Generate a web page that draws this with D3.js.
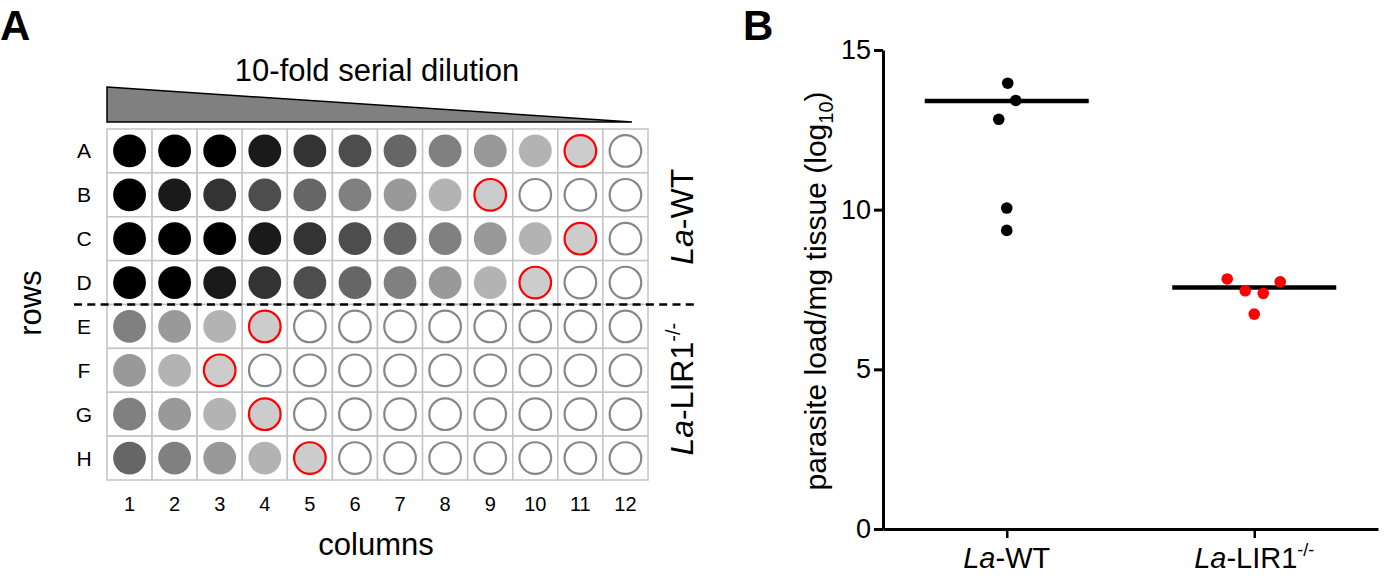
<!DOCTYPE html>
<html>
<head>
  <title>Serial dilution plate and parasite load</title>
  <script src="https://d3js.org/d3.v7.min.js"></script>
  <style>
    body { margin: 0; background: #fff; }
    text { font-family: "Liberation Sans", Arial, sans-serif; fill: #000; }
  </style>
</head>
<body>
  <div id="chart"></div>

  <script>
    // plate layout
    const rows = ["A", "B", "C", "D", "E", "F", "G", "H"];
    const columns = [1, 2, 3, 4, 5, 6, 7, 8, 9, 10, 11, 12];
    // shade level of each well (0 = darkest, 8 = faintest), null = no growth
    const wellLevels = [
      [0, 0, 0, 1, 2, 3, 4, 5, 6, 7, 8, null],
      [0, 1, 2, 3, 4, 5, 6, 7, 8, null, null, null],
      [0, 0, 0, 1, 2, 3, 4, 5, 6, 7, 8, null],
      [0, 0, 1, 2, 3, 4, 5, 6, 7, 8, null, null],
      [5, 6, 7, 8, null, null, null, null, null, null, null, null],
      [6, 7, 8, null, null, null, null, null, null, null, null, null],
      [5, 6, 7, 8, null, null, null, null, null, null, null, null],
      [4, 5, 6, 7, 8, null, null, null, null, null, null, null]
    ];
    const strainRows = [["A", "B", "C", "D"], ["E", "F", "G", "H"]];

    // parasite load (log10 per mg tissue)
    const strains = ["La-WT", "La-LIR1-/-"];
    const wtLoad = [13.96, 13.42, 12.83, 10.05, 9.35];
    const lirLoad = [7.83, 7.46, 7.38, 7.74, 6.73];
    const groupLine = [13.40, 7.56];
    const yTicks = [0, 5, 10, 15];

    // horizontal spread of the dots (px)
    const spread = [[1, 9, -8, 0, 0], [-27, -9, 9, 26, 0]];

    const svg = d3.select("#chart")
      .append("svg")
      .attr("width", 1400)
      .attr("height", 576);

    // ---------- panel A ----------
    const colScale = d3.scaleBand().domain(columns).range([107, 648]);
    const rowScale = d3.scaleBand().domain(rows).range([129, 480]);
    const shade = d3.scaleLinear().domain([0, 8]).range(["#000000", "#cccccc"]);

    svg.append("text")
      .attr("x", 0).attr("y", 40)
      .style("font-size", "42px").style("font-weight", "bold")
      .text("A");

    svg.append("text")
      .attr("x", 377).attr("y", 81)
      .attr("text-anchor", "middle")
      .style("font-size", "31px")
      .text("10-fold serial dilution");

    // dilution wedge
    const wedgeX = d3.scaleLinear().domain([0, 1]).range([colScale.range()[0], 632]);
    const wedgeY = d3.scaleLinear().domain([0, 1]).range([122, 87]);
    svg.append("path")
      .attr("d", d3.line().x(d => wedgeX(d[0])).y(d => wedgeY(d[1]))([[0, 1], [1, 0], [0, 0]]) + "Z")
      .attr("fill", "#808080")
      .attr("stroke", "#000")
      .attr("stroke-width", 1.5)
      .attr("stroke-linejoin", "miter");

    const wells = [];
    rows.forEach((r, i) => {
      const lastPos = d3.max(wellLevels[i].map((v, j) => v === null ? -1 : j));
      columns.forEach((c, j) => {
        wells.push({ row: r, col: c, level: wellLevels[i][j], end: j === lastPos });
      });
    });

    svg.append("g").selectAll("rect")
      .data(wells)
      .enter().append("rect")
      .attr("x", d => colScale(d.col))
      .attr("y", d => rowScale(d.row))
      .attr("width", colScale.bandwidth())
      .attr("height", rowScale.bandwidth())
      .attr("fill", "#fff")
      .attr("stroke", "#c4c4c4")
      .attr("stroke-width", 1.5);

    svg.append("g").selectAll("circle")
      .data(wells)
      .enter().append("circle")
      .attr("cx", d => colScale(d.col) + colScale.bandwidth() / 2)
      .attr("cy", d => rowScale(d.row) + rowScale.bandwidth() / 2)
      .attr("r", d => d.level === null || d.end ? 15.8 : 16.4)
      .attr("fill", d => d.level === null ? "#fff" : shade(d.level))
      .attr("stroke", d => d.end ? "#ff0000" : (d.level === null ? "#878787" : "none"))
      .attr("stroke-width", 2.2);

    svg.append("g").selectAll("text")
      .data(rows)
      .enter().append("text")
      .attr("x", 84)
      .attr("y", d => rowScale(d) + rowScale.bandwidth() / 2 + 7.5)
      .attr("text-anchor", "middle")
      .style("font-size", "21px")
      .text(d => d);

    svg.append("g").selectAll("text")
      .data(columns)
      .enter().append("text")
      .attr("x", d => colScale(d) + colScale.bandwidth() / 2)
      .attr("y", 511)
      .attr("text-anchor", "middle")
      .style("font-size", "20px")
      .text(d => d);

    svg.append("text")
      .attr("x", 376).attr("y", 555)
      .attr("text-anchor", "middle")
      .style("font-size", "31px")
      .text("columns");

    svg.append("text")
      .attr("transform", "translate(41,303) rotate(-90)")
      .attr("text-anchor", "middle")
      .style("font-size", "31px")
      .text("rows");

    // divider between strains
    svg.append("line")
      .attr("x1", 74).attr("x2", 698)
      .attr("y1", rowScale("E")).attr("y2", rowScale("E"))
      .attr("stroke", "#000")
      .attr("stroke-width", 2.4)
      .attr("stroke-dasharray", "8,5.3");

    // strain labels at the right of the plate
    strainRows.forEach((grp, i) => {
      const cy = (rowScale(grp[0]) + rowScale(grp[grp.length - 1]) + rowScale.bandwidth()) / 2;
      const t = svg.append("text")
        .attr("transform", `translate(693,${cy - (i === 0 ? 0 : 3)}) rotate(-90)`)
        .attr("text-anchor", "middle")
        .style("font-size", "32px");
      t.append("tspan").style("font-style", "italic").text("La");
      if (i === 0) {
        t.append("tspan").text("-WT");
      } else {
        t.append("tspan").text("-LIR1");
        t.append("tspan").attr("dy", -13).style("font-size", "20px").text("-/-");
      }
    });

    // ---------- panel B ----------
    const x = d3.scalePoint().domain(strains).range([883, 1378]).padding(0.5);
    const y = d3.scaleLinear().domain([0, 15]).range([529, 50]);

    svg.append("text")
      .attr("x", 743).attr("y", 40)
      .style("font-size", "42px").style("font-weight", "bold")
      .text("B");

    const yAxis = svg.append("g")
      .attr("transform", "translate(883,0)")
      .call(d3.axisLeft(y).tickValues(yTicks).tickSize(9).tickPadding(3).tickSizeOuter(0));
    yAxis.select(".domain").attr("stroke-width", 3);
    yAxis.selectAll(".tick line").attr("stroke-width", 3);
    yAxis.selectAll(".tick text")
      .style("font-size", "27px")
      .style("font-family", "'Liberation Sans', Arial, sans-serif")
      .attr("fill", "#000");

    const xAxis = svg.append("g")
      .attr("transform", "translate(0,529)")
      .call(d3.axisBottom(x).tickSize(9).tickSizeOuter(0).tickFormat(""));
    xAxis.select(".domain").attr("stroke-width", 3);
    xAxis.selectAll(".tick line").attr("stroke-width", 2.5);

    strains.forEach((s, i) => {
      const t = svg.append("text")
        .attr("x", x(s)).attr("y", 568)
        .attr("text-anchor", "middle")
        .style("font-size", "29px");
      t.append("tspan").style("font-style", "italic").text("La");
      if (i === 0) {
        t.append("tspan").text("-WT");
      } else {
        t.append("tspan").text("-LIR1");
        t.append("tspan").attr("dy", -12).style("font-size", "18px").text("-/-");
      }
    });

    const yl = svg.append("text")
      .attr("transform", "translate(826,291) rotate(-90)")
      .attr("text-anchor", "middle")
      .style("font-size", "30px");
    yl.append("tspan").text("parasite load/mg tissue (log");
    yl.append("tspan").attr("dy", 7).style("font-size", "20px").text("10");
    yl.append("tspan").attr("dy", -7).text(")");

    // group lines
    svg.append("g").selectAll("line")
      .data(strains)
      .enter().append("line")
      .attr("x1", d => x(d) - 82)
      .attr("x2", d => x(d) + 82)
      .attr("y1", (d, i) => y(groupLine[i]))
      .attr("y2", (d, i) => y(groupLine[i]))
      .attr("stroke", "#000")
      .attr("stroke-width", 4.5);

    const points = [];
    wtLoad.forEach((v, i) => points.push({ group: strains[0], value: v, dx: spread[0][i], color: "#000000" }));
    lirLoad.forEach((v, i) => points.push({ group: strains[1], value: v, dx: spread[1][i], color: "#ff0000" }));

    svg.append("g").selectAll("circle")
      .data(points)
      .enter().append("circle")
      .attr("cx", d => x(d.group) + d.dx)
      .attr("cy", d => y(d.value))
      .attr("r", 5.8)
      .attr("fill", d => d.color);
  </script>
</body>
</html>
